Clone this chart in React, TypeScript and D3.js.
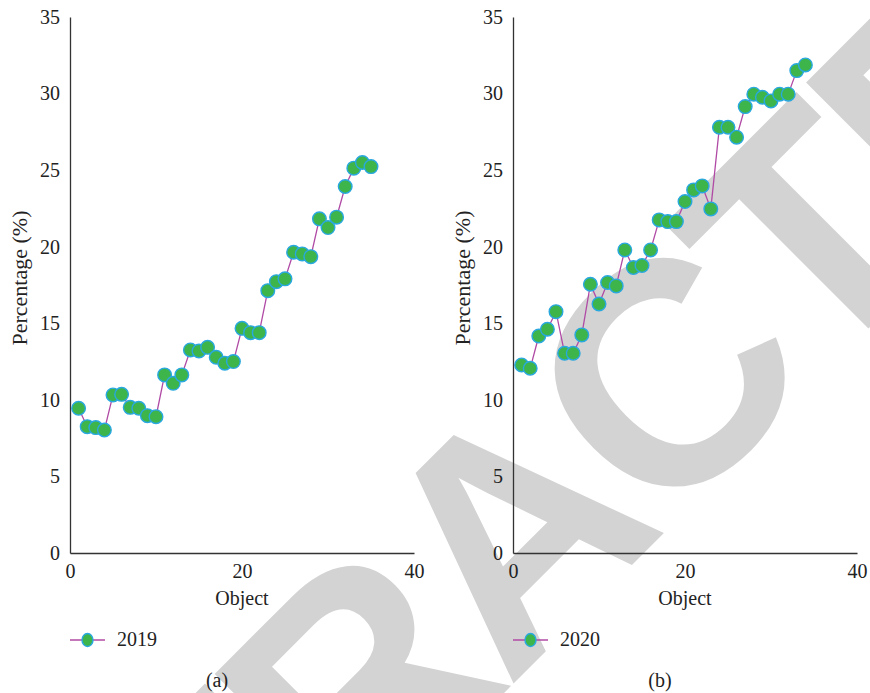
import { useEffect, useRef } from "react";
import * as d3 from "d3";

// panel (a) – 2019, objects 1..35
const values2019 = [
  9.45, 8.25, 8.19, 8.03, 10.32, 10.36, 9.51, 9.45, 8.97, 8.9, 11.63, 11.08,
  11.63, 13.26, 13.19, 13.43, 12.78, 12.39, 12.5, 14.67, 14.39, 14.39, 17.13,
  17.72, 17.9, 19.64, 19.53, 19.35, 21.82, 21.25, 21.93, 23.93, 25.13, 25.5,
  25.23,
];

// panel (b) – 2020, objects 1..34
const values2020 = [
  12.28, 12.06, 14.17, 14.61, 15.76, 13.04, 13.04, 14.24, 17.55, 16.26, 17.66,
  17.44, 19.79, 18.64, 18.77, 19.79, 21.75, 21.64, 21.64, 22.95, 23.71, 23.97,
  22.47, 27.8, 27.8, 27.15, 29.15, 29.96, 29.76, 29.52, 29.96, 29.96, 31.5,
  31.87,
];

const yTicks = [0, 5, 10, 15, 20, 25, 30, 35];
const xTicks = [0, 20, 40];
const panels = [
  { key: "a", series: "2019", values: values2019 },
  { key: "b", series: "2020", values: values2020 },
];

const W = 870;
const H = 693;
const FONT = "'Liberation Serif', 'Times New Roman', serif";
const LINE = "#b04aa5";
const FILL = "#3db54a";
const EDGE = "#29a8e0";
const AXIS = "#333";

export default function App() {
  const ref = useRef<SVGSVGElement>(null);

  useEffect(() => {
    if (!ref.current) return;
    const svg = d3.select(ref.current);
    svg.selectAll("*").remove();

    svg.append("rect").attr("width", W).attr("height", H).attr("fill", "#fff");

    // watermark, behind everything
    svg
      .append("text")
      .attr("transform", "translate(585,612) rotate(-45)")
      .attr("text-anchor", "middle")
      .attr("font-family", "'Liberation Sans', Arial, sans-serif")
      .attr("font-weight", "bold")
      .attr("font-size", 317)
      .attr("letter-spacing", -11)
      .attr("fill", "#d3d3d3")
      .text("RETRACTED");

    const plotW = 344;
    const top = 17;
    const bottom = 553;

    panels.forEach((p, i) => {
      const left = 70 + i * 443;
      const x = d3.scaleLinear().domain([0, 40]).range([left, left + plotW]);
      const y = d3.scaleLinear().domain([0, 35]).range([bottom, top]);
      const g = svg.append("g");

      // axes
      g.append("g")
        .attr("transform", `translate(0,${bottom})`)
        .call(d3.axisBottom(x).tickValues(xTicks).tickSize(0).tickPadding(11))
        .call((a) => {
          a.select(".domain").attr("stroke", AXIS).attr("stroke-width", 1.3);
          a.selectAll("text")
            .attr("font-family", FONT)
            .attr("font-size", 20)
            .attr("fill", "#222");
        });
      g.append("g")
        .attr("transform", `translate(${left},0)`)
        .call(d3.axisLeft(y).tickValues(yTicks).tickSize(0).tickPadding(10))
        .call((a) => {
          a.select(".domain").attr("stroke", AXIS).attr("stroke-width", 1.3);
          a.selectAll("text")
            .attr("font-family", FONT)
            .attr("font-size", 20)
            .attr("fill", "#222");
        });

      // axis titles
      g.append("text")
        .attr("x", left + plotW / 2)
        .attr("y", 605)
        .attr("text-anchor", "middle")
        .attr("font-family", FONT)
        .attr("font-size", 20)
        .attr("fill", "#222")
        .text("Object");
      g.append("text")
        .attr("transform", `translate(${left - 43},${278}) rotate(-90)`)
        .attr("text-anchor", "middle")
        .attr("font-family", FONT)
        .attr("font-size", 22)
        .attr("fill", "#222")
        .text("Percentage (%)");

      // series
      const pts: [number, number][] = p.values.map((v, j) => [j + 1, v]);
      const line = d3
        .line<[number, number]>()
        .x((d) => x(d[0]))
        .y((d) => y(d[1]));
      g.append("path")
        .datum(pts)
        .attr("fill", "none")
        .attr("stroke", LINE)
        .attr("stroke-width", 1.3)
        .attr("d", line);
      g.selectAll("circle.pt")
        .data(pts)
        .join("circle")
        .attr("class", "pt")
        .attr("cx", (d) => x(d[0]))
        .attr("cy", (d) => y(d[1]))
        .attr("r", 6.8)
        .attr("fill", FILL)
        .attr("stroke", EDGE)
        .attr("stroke-width", 1.4);

      // legend
      const leg = g.append("g").attr("transform", `translate(${left},640)`);
      leg
        .append("line")
        .attr("x1", 0)
        .attr("x2", 35)
        .attr("stroke", LINE)
        .attr("stroke-width", 1.3);
      leg
        .append("ellipse")
        .attr("cx", 17.5)
        .attr("rx", 5.5)
        .attr("ry", 6.5)
        .attr("fill", FILL)
        .attr("stroke", EDGE)
        .attr("stroke-width", 1.4);
      leg
        .append("text")
        .attr("x", 47)
        .attr("y", 6)
        .attr("font-family", FONT)
        .attr("font-size", 20)
        .attr("fill", "#222")
        .text(p.series);

      // panel caption
      g.append("text")
        .attr("x", left + 147)
        .attr("y", 687)
        .attr("text-anchor", "middle")
        .attr("font-family", FONT)
        .attr("font-size", 20)
        .attr("fill", "#222")
        .text(`(${p.key})`);
    });
  }, []);

  return (
    <svg
      ref={ref}
      width={W}
      height={H}
      style={{ position: "absolute", left: 0, top: 0, display: "block" }}
    />
  );
}
